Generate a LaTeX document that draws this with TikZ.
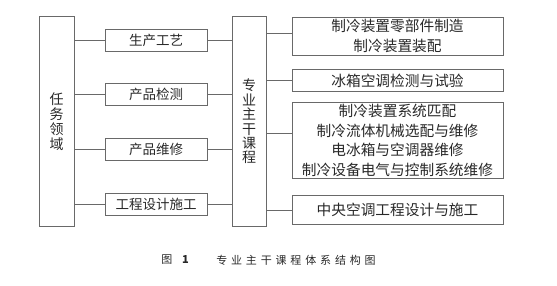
\documentclass[tikz,border=0pt]{standalone}
\usepackage{fontspec}
\setmainfont{Noto Sans CJK SC}
\newfontfamily\capfont[LetterSpace=35]{Noto Sans CJK SC}
\usepackage{tikz}
\usetikzlibrary{positioning}
\definecolor{linegray}{RGB}{105,105,105}
\definecolor{textgray}{RGB}{40,40,40}

\begin{document}
\begin{tikzpicture}[
  x=1pt, y=1pt,
  node distance=32pt,
  box/.style={draw=linegray, line width=0.8pt, inner sep=0pt, align=center, text=textgray},
  tall/.style={box, minimum width=35pt, minimum height=210pt, font=\fontsize{14}{15}\selectfont},
  task/.style={box, minimum width=102pt, minimum height=22pt, font=\fontsize{13.5}{16}\selectfont},
  course/.style={box, minimum width=211pt, font=\fontsize{14.7}{19.5}\selectfont},
  conn/.style={draw=linegray, line width=0.8pt}
]
  \useasboundingbox (0,0) rectangle (557,-285);

  % left and middle columns
  \node[tall] (field) at (56.5,-121.5) {任\\务\\领\\域};
  \node[tall, minimum width=34pt, font=\fontsize{14}{14.4}\selectfont] (main) at (249,-121.5) {专\\业\\主\\干\\课\\程};

  \node[task] (craft) at (156,-40) {生产工艺};
  \node[task, below=of craft] (check) {产品检测};
  \node[task, below=of check] (repair) {产品维修};
  \node[task, below=of repair] (build) {工程设计施工};

  % right column
  \node[course, minimum height=38pt] (c1) at (397.5,-36) {制冷装置零部件制造\\制冷装置装配};
  \node[course, minimum height=22pt, below=14pt of c1] (c2) {冰箱空调检测与试验};
  \node[course, minimum height=76pt, below=10pt of c2] (c3) {制冷装置系统匹配\\制冷流体机械选配与维修\\电冰箱与空调器维修\\制冷设备电气与控制系统维修};
  \node[course, minimum height=29pt, below=16pt of c3] (c4) {中央空调工程设计与施工};

  % caption
  \node[text=textgray, font=\capfont\fontsize{11}{12}\selectfont] (capno) at (177,-260) {图\hspace{6pt}\textbf{1}};
  \node[text=textgray, font=\capfont\fontsize{11}{12}\selectfont] (captext) at (296,-260) {专业主干课程体系结构图};

  \foreach \t in {craft, check, repair, build} {
    \draw[conn] (\t.west) -- (\t.west -| field.east);
    \draw[conn] (\t.east) -- (\t.east -| main.west);
  }
  \draw[conn] ([yshift=3pt]c1.west) -- ([yshift=3pt]c1.west -| main.east);
  \draw[conn] (c2.west) -- (c2.west -| main.east);
  \draw[conn] ([yshift=7pt]c3.west) -- ([yshift=7pt]c3.west -| main.east);
  \draw[conn] (c4.west) -- (c4.west -| main.east);
\end{tikzpicture}
\end{document}
